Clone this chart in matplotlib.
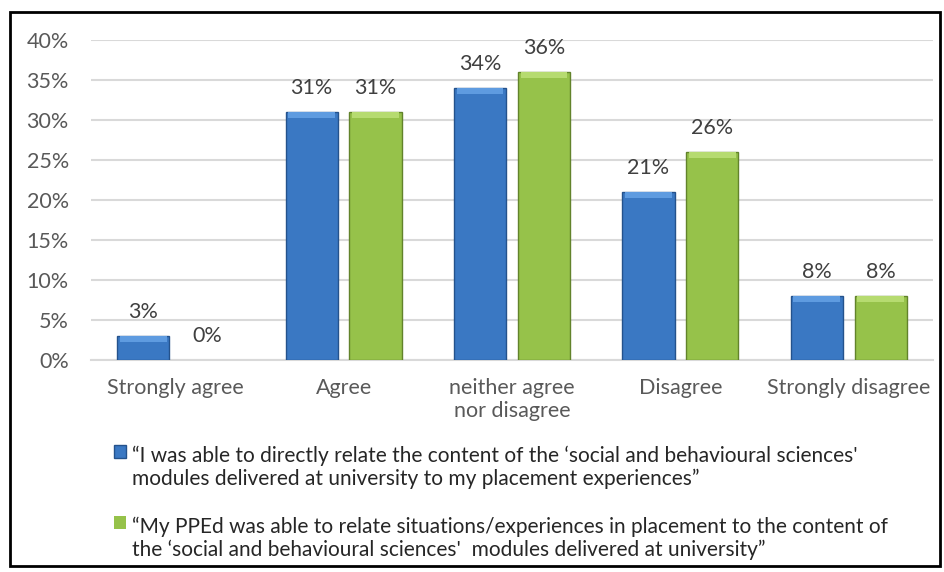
import matplotlib.pyplot as plt
import matplotlib.patches as patches
import numpy as np

plt.rcParams['font.family'] = ['Lato', 'DejaVu Sans']

categorie = ['Strongly agree', 'Agree', 'neither agree\nnor disagree', 'Disagree', 'Strongly disagree']
serie_1 = [3, 31, 34, 21, 8]
serie_2 = [0, 31, 36, 26, 8]
etichetta_1 = ("\u201cI was able to directly relate the content of the \u2018social and behavioural sciences'\n"
               "modules delivered at university to my placement experiences\u201d")
etichetta_2 = ("\u201cMy PPEd was able to relate situations/experiences in placement to the content of\n"
               "the \u2018social and behavioural sciences'  modules delivered at university\u201d")

blu = '#3A78C3'
blu_chiaro = '#5E9BE0'
blu_bordo = '#24528C'
verde = '#96C24A'
verde_chiaro = '#B6DB70'
verde_bordo = '#62832B'
grigio = '#595959'

fig = plt.figure(figsize=(9.44, 5.72), dpi=100)
ax = fig.add_axes([91 / 944, 1 - 360 / 572, (933 - 91) / 944, 320 / 572])

x = np.arange(len(categorie))
larghezza = 0.31
offset = 0.19
smusso = 0.008  # altezza della fascia chiara in cima (effetto bevel)

v1 = np.array(serie_1) / 100
v2 = np.array(serie_2) / 100

b1 = ax.bar(x - offset, v1, larghezza, color=blu, edgecolor=blu_bordo,
            linewidth=1, label=etichetta_1, zorder=3)
b2 = ax.bar(x + offset, v2, larghezza, color=verde, edgecolor=verde_bordo,
            linewidth=1, label=etichetta_2, zorder=3)
# le barre a zero non si vedono
for b, v in zip(list(b1) + list(b2), list(v1) + list(v2)):
    if v == 0:
        b.set_edgecolor('none')

# fascia chiara in cima alle barre
h1 = np.minimum(v1, smusso)
h2 = np.minimum(v2, smusso)
ax.bar(x - offset, h1, larghezza * 0.9, bottom=v1 - h1, color=blu_chiaro, linewidth=0, zorder=4)
ax.bar(x + offset, h2, larghezza * 0.9, bottom=v2 - h2, color=verde_chiaro, linewidth=0, zorder=4)

# etichette sopra le barre
for barre, valori in ((b1, serie_1), (b2, serie_2)):
    for b, v in zip(barre, valori):
        ax.annotate('%d%%' % v, (b.get_x() + b.get_width() / 2, b.get_height()),
                    xytext=(0, 10), textcoords='offset points', ha='center', va='bottom',
                    fontsize=15.5, color='#404040')

ax.set_xlim(-0.5, len(categorie) - 0.5)
ax.set_ylim(0, 0.40)
ax.set_yticks(np.arange(0, 0.41, 0.05))
ax.set_yticklabels(['%d%%' % round(v * 100) for v in np.arange(0, 0.41, 0.05)])
ax.set_xticks(x)
ax.set_xticklabels(categorie)
ax.tick_params(axis='both', length=0, labelsize=15.5, labelcolor=grigio)
ax.tick_params(axis='x', pad=13)
ax.tick_params(axis='y', pad=16)
ax.yaxis.grid(True, color='#D9D9D9', linewidth=1.5, zorder=0)
ax.set_axisbelow(True)
for lato in ['top', 'right', 'left']:
    ax.spines[lato].set_visible(False)
ax.spines['bottom'].set_color('#D9D9D9')
ax.spines['bottom'].set_linewidth(1.5)

leg = fig.legend(handles=[b1, b2], loc='upper left', bbox_to_anchor=(104 / 944, 1 - 435 / 572),
                 frameon=False, fontsize=15, labelcolor='#262626', handlelength=0.55, handleheight=0.55,
                 handletextpad=0.3, labelspacing=1.3, borderpad=0)
# quadratino allineato alla prima riga del testo
for colonna in leg._legend_handle_box.get_children():
    for riga in colonna.get_children():
        riga.align = 'top'

# cornice esterna
fig.patches.append(patches.Rectangle((10 / 944, 6 / 572), 930 / 944, 554 / 572,
                                     transform=fig.transFigure, fill=False,
                                     edgecolor='black', linewidth=2))

plt.savefig('out.png', dpi=100)
